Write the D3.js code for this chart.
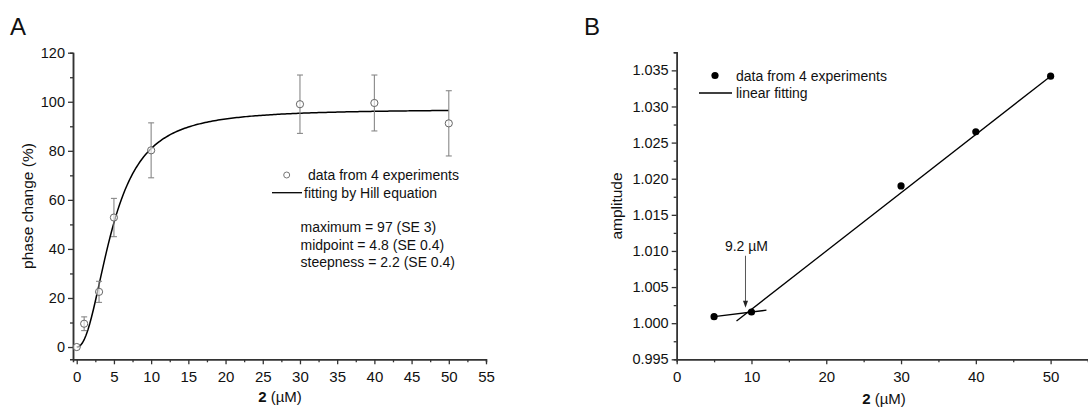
<!DOCTYPE html>
<html>
<head>
<meta charset="utf-8">
<script src="https://cdn.jsdelivr.net/npm/d3@7"></script>
<style>
  html, body { margin: 0; padding: 0; background: #fff; }
  svg { display: block; font-family: "Liberation Sans", Arial, sans-serif; }
</style>
</head>
<body>
<svg id="chart" width="1088" height="410"></svg>
<script>
// ---- Panel A: phase change vs concentration (Hill fit) ----
const concA = [0, 1, 3, 5, 10, 30, 40, 50];
const phaseA = [0, 9.5, 22.5, 52.8, 80.2, 99.0, 99.5, 91.2];
const phaseErrA = [0.5, 2.8, 4.3, 7.8, 11.2, 11.9, 11.4, 13.3];
const hillParams = [97, 4.8, 2.2];            // maximum, midpoint, steepness
const hillText = ["maximum = 97 (SE 3)", "midpoint = 4.8 (SE 0.4)", "steepness = 2.2 (SE 0.4)"];
const xTicksA = [0, 5, 10, 15, 20, 25, 30, 35, 40, 45, 50, 55];
const yTicksA = [0, 20, 40, 60, 80, 100, 120];

// ---- Panel B: amplitude vs concentration (two linear fits) ----
const concB = [5, 10, 30, 40, 50];
const ampB = [1.0009, 1.00155, 1.0190, 1.0265, 1.0342];
const lowFitX = [5, 12];
const lowFitY = [1.0009, 1.0018];
const highFitX = [8, 50];
const highFitY = [1.0003, 1.0342];
const breakPoint = 9.2;
const xTicksB = [0, 10, 20, 30, 40, 50];
const yTicksB = [0.995, 1.000, 1.005, 1.010, 1.015, 1.020, 1.025, 1.030, 1.035];

const svg = d3.select("#chart");
const axisColor = "#333";

function styleAxis(g) {
  g.select(".domain").attr("stroke", axisColor).attr("stroke-width", 1.5);
  g.selectAll(".tick line").attr("stroke", axisColor).attr("stroke-width", 1.3);
  g.selectAll(".tick text").attr("fill", "#111").attr("font-family", "Liberation Sans, Arial, sans-serif");
}

function drawAxes(x, y, xTicks, yTicks, xMinor, yMinor, yFmt, xFont, yFont) {
  const y0 = y.range()[0], x0 = x.range()[0];
  // minor ticks first
  svg.append("g").attr("transform", `translate(0,${y0})`)
    .call(d3.axisBottom(x).tickValues(xMinor).tickSize(3).tickFormat(""))
    .call(styleAxis);
  svg.append("g").attr("transform", `translate(${x0},0)`)
    .call(d3.axisLeft(y).tickValues(yMinor).tickSize(3).tickFormat(""))
    .call(styleAxis);
  const gx = svg.append("g").attr("transform", `translate(0,${y0})`)
    .call(d3.axisBottom(x).tickValues(xTicks).tickSize(5).tickSizeOuter(0).tickPadding(4).tickFormat(d3.format("d")))
    .call(styleAxis);
  gx.selectAll(".tick text").attr("font-size", xFont).attr("dy", "0.9em");
  const gy = svg.append("g").attr("transform", `translate(${x0},0)`)
    .call(d3.axisLeft(y).tickValues(yTicks).tickSize(5).tickSizeOuter(0).tickPadding(3).tickFormat(yFmt))
    .call(styleAxis);
  gy.selectAll(".tick text").attr("font-size", yFont);
}

function xTitle(cx, baseline) {
  const t = svg.append("text").attr("x", cx).attr("y", baseline)
    .attr("text-anchor", "middle").attr("font-size", 15).attr("fill", "#111");
  t.append("tspan").attr("font-weight", "bold").text("2");
  t.append("tspan").text(" (\u00B5M)");
}

function yTitle(cx, cy, label) {
  svg.append("text").attr("transform", `translate(${cx},${cy}) rotate(-90)`)
    .attr("text-anchor", "middle").attr("font-size", 15.5).attr("fill", "#111").text(label);
}

// ================= Panel A =================
const xA = d3.scaleLinear().domain([-0.5, 55]).range([73, 486]);
const yA = d3.scaleLinear().domain([-5, 120]).range([359.3, 52.7]);
drawAxes(xA, yA, xTicksA, yTicksA,
  d3.range(2.5, 55, 5), d3.range(10, 120, 20),
  d3.format("d"), 15, 14.5);

svg.append("text").attr("x", 10).attr("y", 35).attr("font-size", 24).attr("fill", "#111").text("A");
yTitle(33, 206, "phase change (%)");
xTitle(280, 402);

// Hill curve
const [vmax, k50, nH] = hillParams;
const hill = c => vmax * Math.pow(c, nH) / (Math.pow(k50, nH) + Math.pow(c, nH));
const curveX = d3.range(0, 50.001, 0.25);
svg.append("path")
  .datum(curveX)
  .attr("fill", "none").attr("stroke", "#000").attr("stroke-width", 1.5)
  .attr("d", d3.line().x(d => xA(d)).y(d => yA(hill(d))));

// error bars
const ptsA = concA.map((c, i) => ({ c, v: phaseA[i], e: phaseErrA[i] }));
const eb = svg.append("g").attr("stroke", "#888").attr("stroke-width", 1.1);
ptsA.filter(d => d.e > 1).forEach(d => {
  const x = xA(d.c);
  eb.append("line").attr("x1", x).attr("x2", x).attr("y1", yA(d.v + d.e)).attr("y2", yA(d.v - d.e));
  eb.append("line").attr("x1", x - 3).attr("x2", x + 3).attr("y1", yA(d.v + d.e)).attr("y2", yA(d.v + d.e));
  eb.append("line").attr("x1", x - 3).attr("x2", x + 3).attr("y1", yA(d.v - d.e)).attr("y2", yA(d.v - d.e));
});
svg.append("g").selectAll("circle").data(ptsA).join("circle")
  .attr("cx", d => xA(d.c)).attr("cy", d => yA(d.v)).attr("r", 3.6)
  .attr("fill", "#fff").attr("fill-opacity", 0.6).attr("stroke", "#666").attr("stroke-width", 1);

// legend A
svg.append("circle").attr("cx", 286.7).attr("cy", 175).attr("r", 3)
  .attr("fill", "none").attr("stroke", "#777").attr("stroke-width", 1);
svg.append("text").attr("x", 308).attr("y", 180).attr("font-size", 14).attr("fill", "#111")
  .text("data from 4 experiments");
svg.append("line").attr("x1", 272).attr("x2", 302).attr("y1", 192.7).attr("y2", 192.7)
  .attr("stroke", "#000").attr("stroke-width", 1.3);
svg.append("text").attr("x", 304).attr("y", 197.5).attr("font-size", 14).attr("fill", "#111")
  .text("fitting by Hill equation");
svg.append("g").selectAll("text").data(hillText).join("text")
  .attr("x", 300.5).attr("y", (d, i) => 232 + i * 17.5)
  .attr("font-size", 14).attr("fill", "#111").text(d => d);

// ================= Panel B =================
const xB = d3.scaleLinear().domain([0, 55]).range([676.7, 1088]);
const yB = d3.scaleLinear().domain([0.995, 1.0375]).range([359.3, 52.3]);
drawAxes(xB, yB, xTicksB, yTicksB,
  d3.range(5, 56, 10), d3.range(0.9975, 1.038, 0.005),
  d3.format(".3f"), 15, 14.5);

svg.append("text").attr("x", 584).attr("y", 35).attr("font-size", 24).attr("fill", "#111").text("B");
yTitle(622, 206, "amplitude");
xTitle(884, 404);

// fit lines
const fitLine = d3.line().x(d => xB(d[0])).y(d => yB(d[1]));
[[lowFitX, lowFitY], [highFitX, highFitY]].forEach(([xs, ys]) => {
  svg.append("path").datum(xs.map((x, i) => [x, ys[i]]))
    .attr("fill", "none").attr("stroke", "#000").attr("stroke-width", 1.3)
    .attr("d", fitLine);
});

// data points
svg.append("g").selectAll("circle").data(concB.map((c, i) => [c, ampB[i]])).join("circle")
  .attr("cx", d => xB(d[0])).attr("cy", d => yB(d[1])).attr("r", 3.6).attr("fill", "#000");

// break point arrow
const lowSlope = (lowFitY[1] - lowFitY[0]) / (lowFitX[1] - lowFitX[0]);
const yBreak = lowFitY[0] + lowSlope * (breakPoint - lowFitX[0]);
const ax = xB(breakPoint);
const tipY = yB(yBreak) - 5;
svg.append("line").attr("x1", ax).attr("x2", ax).attr("y1", tipY - 52).attr("y2", tipY - 5)
  .attr("stroke", "#444").attr("stroke-width", 0.9);
svg.append("path")
  .attr("d", `M${ax - 2.5},${tipY - 7} L${ax + 2.5},${tipY - 7} L${ax},${tipY} Z`)
  .attr("fill", "#222");
svg.append("text").attr("x", ax + 1).attr("y", tipY - 57).attr("text-anchor", "middle")
  .attr("font-size", 14).attr("fill", "#111").text(`${breakPoint} \u00B5M`);

// legend B
svg.append("circle").attr("cx", 715).attr("cy", 75.5).attr("r", 3.6).attr("fill", "#000");
svg.append("text").attr("x", 736).attr("y", 80.5).attr("font-size", 14).attr("fill", "#111")
  .text("data from 4 experiments");
svg.append("line").attr("x1", 699).attr("x2", 732).attr("y1", 93).attr("y2", 93)
  .attr("stroke", "#000").attr("stroke-width", 1.3);
svg.append("text").attr("x", 736).attr("y", 97.5).attr("font-size", 14).attr("fill", "#111")
  .text("linear fitting");
</script>
</body>
</html>
